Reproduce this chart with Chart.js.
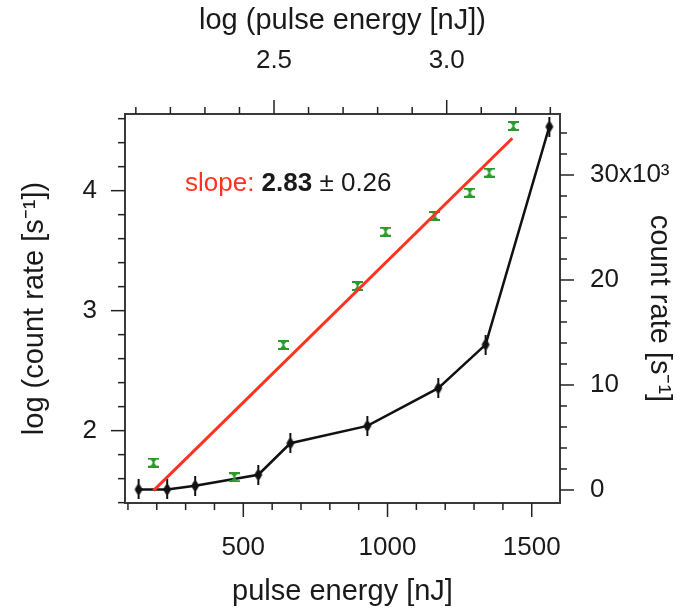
<!DOCTYPE html>
<html>
<head>
<meta charset="utf-8">
<script src="https://cdn.jsdelivr.net/npm/chart.js@4.4.1/dist/chart.umd.min.js"></script>
<style>
  html, body { margin: 0; padding: 0; background: #ffffff; }
  #wrap { width: 680px; height: 612px; }
</style>
</head>
<body>
<div id="wrap"><canvas id="c" width="680" height="612"></canvas></div>
<script>
// ---- data ----
const energyNJ       = [137, 236, 333, 552, 663, 930, 1176, 1340, 1561];   // bottom axis
const countRateK     = [0.05, 0.05, 0.4, 1.45, 4.45, 6.1, 9.7, 13.85, 34.6]; // right axis (x10^3 s^-1)
const logEnergy      = [2.151, 2.385, 2.527, 2.742, 2.823, 2.966, 3.067, 3.123, 3.193]; // top axis
const logCountRate   = [1.733, 1.612, 2.714, 3.206, 3.658, 3.789, 3.983, 4.150, 4.539]; // left axis
const fitLogEnergy   = [2.151, 3.190];
const fitLogCount    = [1.500, 4.437];

// tick labels / tick steps
const energyMajorTicks    = [500, 1000, 1500];
const logEnergyMajorTicks = [2.5, 3.0];
const logRateMajorTicks   = [2, 3, 4];
const rateMajorTicks      = [0, 10, 20, 30];
const minorStep = { x: 100, xTop: 0.1, y: 0.2, yR: 2 };

const slopeLabel = 'slope: ';
const slopeValue = '2.83';
const slopeError = ' \u00b1 0.26';

// ---- markers ----
function blackMarker() {
  const c = document.createElement('canvas');
  c.width = 10; c.height = 20;
  const g = c.getContext('2d');
  g.fillStyle = '#111';
  g.fillRect(4, 0, 2, 20);
  g.beginPath();
  g.moveTo(5, 3); g.lineTo(9, 10); g.lineTo(5, 17); g.lineTo(1, 10); g.closePath();
  g.fill();
  return c;
}
function greenMarker() {
  const c = document.createElement('canvas');
  c.width = 11; c.height = 10;
  const g = c.getContext('2d');
  g.fillStyle = '#2b9a2b';
  g.fillRect(0, 0, 11, 2);
  g.fillRect(0, 8, 11, 2);
  g.beginPath();
  g.moveTo(1.5, 1); g.lineTo(9.5, 1); g.lineTo(5.5, 5); g.closePath(); g.fill();
  g.beginPath();
  g.moveTo(1.5, 9); g.lineTo(9.5, 9); g.lineTo(5.5, 5); g.closePath(); g.fill();
  g.fillRect(4.5, 3, 2, 4);
  return c;
}

const FONT = '"Liberation Sans", Arial, Helvetica, sans-serif';
const TXT = '#1a1a1a';
const tickFont = { family: FONT, size: 26 };
const titleFont = { family: FONT, size: 29 };

const near = (a, b) => Math.abs(a - b) < 1e-6;
const isMajor = {
  x:    v => energyMajorTicks.some(m => near(m, v)),
  xTop: v => logEnergyMajorTicks.some(m => near(m, v)),
  y:    v => logRateMajorTicks.some(m => near(m, v)),
  yR:   v => rateMajorTicks.some(m => near(m, v))
};

function buildTicks(scale) {
  const step = minorStep[scale.id];
  const out = [];
  for (let k = Math.ceil(scale.min / step - 1e-9); k * step <= scale.max + 1e-9; k++) {
    out.push({ value: +(k * step).toFixed(6) });
  }
  scale.ticks = out;
}

const tickPlugin = {
  id: 'frameTicks',
  afterDraw(chart) {
    const ctx = chart.ctx;
    const a = chart.chartArea;
    ctx.save();
    ctx.strokeStyle = '#222';
    ctx.lineWidth = 1.5;
    for (const id of ['x', 'xTop', 'y', 'yR']) {
      const s = chart.scales[id];
      for (const t of s.ticks) {
        if (t.value < s.min || t.value > s.max) continue;
        const p = s.getPixelForValue(t.value);
        const len = isMajor[id](t.value) ? 14 : 7;
        ctx.beginPath();
        if (id === 'x') { ctx.moveTo(p, a.bottom); ctx.lineTo(p, a.bottom + len); }
        else if (id === 'xTop') { ctx.moveTo(p, a.top); ctx.lineTo(p, a.top - len); }
        else if (id === 'y') { ctx.moveTo(a.left, p); ctx.lineTo(a.left - len, p); }
        else { ctx.moveTo(a.right, p); ctx.lineTo(a.right + len, p); }
        ctx.stroke();
      }
    }
    // slope annotation
    ctx.textBaseline = 'middle';
    ctx.textAlign = 'left';
    let x = a.left + 60;
    const y = a.top + 70;
    ctx.font = '26px ' + FONT;
    ctx.fillStyle = '#ff3320';
    ctx.fillText(slopeLabel, x, y);
    x += ctx.measureText(slopeLabel).width;
    ctx.font = 'bold 26px ' + FONT;
    ctx.fillStyle = TXT;
    ctx.fillText(slopeValue, x, y);
    x += ctx.measureText(slopeValue).width;
    ctx.font = '26px ' + FONT;
    ctx.fillText(slopeError, x, y);
    ctx.restore();
  }
};

function fix(size, horiz) {
  return function (scale) { if (horiz) scale.height = size; else scale.width = size; };
}

const border = { display: true, color: '#3a3a3a', width: 2 };

new Chart(document.getElementById('c'), {
  type: 'line',
  data: {
    datasets: [
      {
        label: 'fit',
        data: fitLogEnergy.map((v, i) => ({ x: v, y: fitLogCount[i] })),
        xAxisID: 'xTop', yAxisID: 'y',
        borderColor: '#ff3320', borderWidth: 3, pointRadius: 0, fill: false
      },
      {
        label: 'log',
        data: logEnergy.map((v, i) => ({ x: v, y: logCountRate[i] })),
        xAxisID: 'xTop', yAxisID: 'y',
        showLine: false, pointStyle: greenMarker(), pointRadius: 5
      },
      {
        label: 'linear',
        data: energyNJ.map((v, i) => ({ x: v, y: countRateK[i] })),
        xAxisID: 'x', yAxisID: 'yR',
        borderColor: '#111', borderWidth: 2.5, pointStyle: blackMarker(), pointRadius: 6,
        fill: false, tension: 0
      }
    ]
  },
  options: {
    responsive: false,
    animation: false,
    layout: { padding: 0 },
    plugins: { legend: { display: false }, tooltip: { enabled: false } },
    scales: {
      x: {
        type: 'linear', position: 'bottom', min: 89.8, max: 1598,
        afterFit: fix(109, true), afterBuildTicks: buildTicks,
        grid: { display: false }, border,
        ticks: {
          autoSkip: false, maxRotation: 0,
          padding: 21, color: TXT, font: tickFont,
          callback: v => isMajor.x(v) ? String(v) : ''
        },
        title: { display: true, text: 'pulse energy [nJ]', color: TXT, font: titleFont, padding: { top: 0, bottom: 3 } }
      },
      xTop: {
        type: 'linear', position: 'top', min: 2.0686, max: 3.328,
        afterFit: fix(114, true), afterBuildTicks: buildTicks,
        grid: { display: false }, border,
        ticks: {
          autoSkip: false, maxRotation: 0,
          padding: 30, color: TXT, font: tickFont,
          callback: v => isMajor.xTop(v) ? Number(v).toFixed(1) : ''
        },
        title: { display: true, text: 'log (pulse energy [nJ])', color: TXT, font: titleFont, padding: { top: 4, bottom: 0 } }
      },
      y: {
        type: 'linear', position: 'left', min: 1.397, max: 4.639,
        afterFit: fix(125, false), afterBuildTicks: buildTicks,
        grid: { display: false }, border,
        ticks: {
          autoSkip: false,
          padding: 20, color: TXT, font: tickFont,
          callback: v => isMajor.y(v) ? String(Math.round(v)) : ''
        },
        title: { display: true, text: 'log (count rate [s\u207b\u00b9])', color: TXT, font: titleFont, padding: { top: 18, bottom: 0 } }
      },
      yR: {
        type: 'linear', position: 'right', min: -1.24, max: 35.81,
        afterFit: fix(120, false), afterBuildTicks: buildTicks,
        grid: { display: false }, border,
        ticks: {
          autoSkip: false,
          padding: 22, color: TXT, font: tickFont,
          callback: v => isMajor.yR(v) ? (Math.round(v) === 30 ? '30x10\u00b3' : String(Math.round(v))) : ''
        },
        title: { display: true, text: 'count rate [s\u207b\u00b9]', color: TXT, font: titleFont, padding: { top: 4, bottom: 0 } }
      }
    }
  },
  plugins: [tickPlugin]
});
</script>
</body>
</html>
